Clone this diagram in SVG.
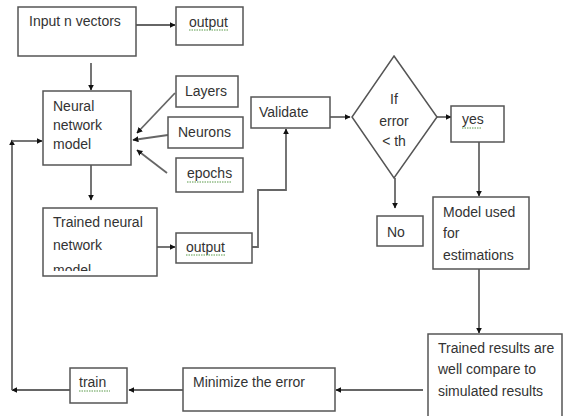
<svg xmlns="http://www.w3.org/2000/svg" width="565" height="416" viewBox="0 0 565 416">
<defs>
<marker id="ah" viewBox="0 0 10 10" refX="9" refY="5" markerWidth="6" markerHeight="6" markerUnits="userSpaceOnUse" orient="auto"><path d="M0,0 L10,5 L0,10 z" fill="#111"/></marker>
<clipPath id="clipTr"><rect x="43" y="208" width="114" height="63"/></clipPath>
</defs>
<style>
.box{fill:#fff;stroke:#555;stroke-width:1.5}
.t{font-family:"Liberation Sans",Arial,sans-serif;font-size:14px;fill:#333}
.c{stroke:#666;stroke-width:1.8;fill:none}
.a{marker-end:url(#ah)}
.sq{stroke:#5a9a4a;stroke-width:1;stroke-dasharray:1.5 1;fill:none}
</style>
<rect width="565" height="416" fill="#fff"/>
<g id="connectors">
<path class="c a" d="M136,25 H175"/>
<path class="c a" d="M91,63 V90"/>
<path class="c a" d="M175,93 L137,133"/>
<path class="c a" d="M168,135 L133,140"/>
<path class="c a" d="M167,173 L137,150"/>
<path class="c a" d="M91,165 V200"/>
<path class="c a" d="M157,247 H175"/>
<path class="c a" d="M252,247 H258 V190 H286 V129"/>
<path class="c a" d="M330,117 H350"/>
<path class="c a" d="M437,117 H451"/>
<path class="c a" d="M395,178 V208"/>
<path class="c a" d="M479,142 V196"/>
<path class="c a" d="M479,269 V333"/>
<path class="c a" d="M423,390 H336"/>
<path class="c a" d="M183,390 H129"/>
<path class="c a" d="M70,390 H12"/>
<path class="c a" d="M12,390 V140"/>
<path class="c a" d="M12,141 H42"/>
</g>
<g id="input"><rect class="box" x="18" y="7" width="118" height="49"/><text class="t" x="29" y="26">Input n vectors</text></g>
<g id="output1"><rect class="box" x="176" y="7" width="67" height="38"/><text class="t" x="189" y="27">output</text><path class="sq" d="M189,30 H229"/></g>
<g id="nnmodel"><rect class="box" x="43" y="91" width="88" height="74"/><text class="t" x="53" y="111">Neural</text><text class="t" x="53" y="130">network</text><text class="t" x="53" y="149">model</text></g>
<g id="layers"><rect class="box" x="176" y="76" width="62" height="31"/><text class="t" x="185" y="96">Layers</text></g>
<g id="neurons"><rect class="box" x="168" y="117" width="75" height="31"/><text class="t" x="178" y="137">Neurons</text></g>
<g id="epochs"><rect class="box" x="176" y="158" width="67" height="34"/><text class="t" x="187" y="178">epochs</text><path class="sq" d="M187,182 H231"/></g>
<g id="validate"><rect class="box" x="251" y="97" width="79" height="31"/><text class="t" x="259" y="117">Validate</text></g>
<g id="decision"><polygon class="box" points="394,56 437,117 394,178 352,117"/><text class="t" x="394" y="104" text-anchor="middle">If</text><text class="t" x="394" y="126" text-anchor="middle">error</text><text class="t" x="394" y="146" text-anchor="middle">&lt; th</text></g>
<g id="yes"><rect class="box" x="451" y="106" width="53" height="36"/><text class="t" x="462" y="124">yes</text><path class="sq" d="M462,128 H482"/></g>
<g id="no"><rect class="box" x="377" y="216" width="46" height="30"/><text class="t" x="387" y="237">No</text></g>
<g id="modelused"><rect class="box" x="433" y="197" width="96" height="72"/><text class="t" x="443" y="217">Model used</text><text class="t" x="443" y="238">for</text><text class="t" x="443" y="260">estimations</text></g>
<g id="trainednn"><rect class="box" x="43" y="208" width="114" height="68"/><text class="t" x="53" y="227">Trained neural</text><text class="t" x="53" y="250">network</text><text class="t" x="53" y="275" clip-path="url(#clipTr)">model</text></g>
<g id="output2"><rect class="box" x="176" y="233" width="76" height="30"/><text class="t" x="186" y="252">output</text><path class="sq" d="M186,255 H226"/></g>
<g id="trainedresults"><rect class="box" x="428" y="334" width="134" height="90"/><text class="t" x="438" y="353">Trained results are</text><text class="t" x="438" y="374">well compare to</text><text class="t" x="438" y="396">simulated results</text></g>
<g id="minimize"><rect class="box" x="183" y="368" width="152" height="43"/><text class="t" x="193" y="387">Minimize the error</text></g>
<g id="train"><rect class="box" x="70" y="368" width="57" height="35"/><text class="t" x="79" y="387">train</text><path class="sq" d="M79,391 H110"/></g>
</svg>
